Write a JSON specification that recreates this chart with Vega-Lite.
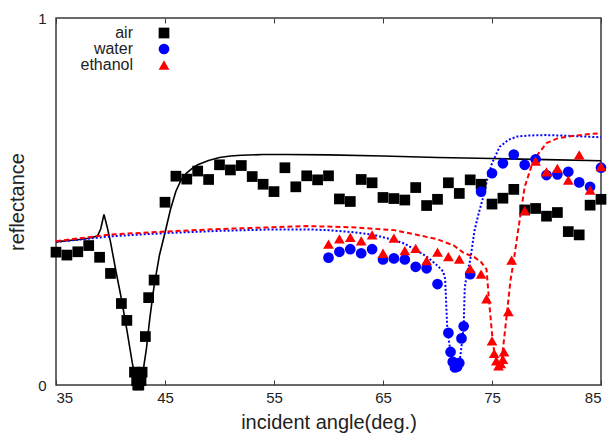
{
  "$schema": "https://vega.github.io/schema/vega-lite/v6.json",
  "width": 545,
  "height": 367,
  "autosize": {"type": "none"},
  "padding": {"left": 56, "top": 18, "right": 10, "bottom": 50},
  "background": "white",
  "config": {
    "font": "Liberation Sans",
    "view": {"stroke": "#3a3a3a", "strokeWidth": 1.5},
    "axis": {
      "domain": false,
      "grid": false,
      "labelFont": "Liberation Sans",
      "labelFontSize": 15,
      "labelColor": "#222222",
      "titleFont": "Liberation Sans",
      "titleFontSize": 20,
      "titleFontWeight": "normal",
      "titleColor": "#222222",
      "tickColor": "#3a3a3a",
      "tickWidth": 1
    }
  },
  "datasets": {
    "pts": [
      {"series": "air", "x": 35, "y": 0.362}, {"series": "air", "x": 36, "y": 0.354}, {"series": "air", "x": 37, "y": 0.363}, {"series": "air", "x": 38, "y": 0.38},
      {"series": "air", "x": 39, "y": 0.348}, {"series": "air", "x": 40, "y": 0.304}, {"series": "air", "x": 41, "y": 0.222}, {"series": "air", "x": 41.5, "y": 0.176},
      {"series": "air", "x": 42.2, "y": 0.035}, {"series": "air", "x": 42.4, "y": 0.012}, {"series": "air", "x": 42.5, "y": 0.0}, {"series": "air", "x": 42.6, "y": 0.0},
      {"series": "air", "x": 42.8, "y": 0.012}, {"series": "air", "x": 42.9, "y": 0.035}, {"series": "air", "x": 43.2, "y": 0.132}, {"series": "air", "x": 43.5, "y": 0.238},
      {"series": "air", "x": 44, "y": 0.286}, {"series": "air", "x": 45, "y": 0.498}, {"series": "air", "x": 46, "y": 0.569}, {"series": "air", "x": 47, "y": 0.561},
      {"series": "air", "x": 48, "y": 0.583}, {"series": "air", "x": 49, "y": 0.56}, {"series": "air", "x": 50, "y": 0.6}, {"series": "air", "x": 51, "y": 0.586},
      {"series": "air", "x": 52, "y": 0.598}, {"series": "air", "x": 53, "y": 0.568}, {"series": "air", "x": 54, "y": 0.547}, {"series": "air", "x": 55, "y": 0.527},
      {"series": "air", "x": 56, "y": 0.592}, {"series": "air", "x": 57, "y": 0.54}, {"series": "air", "x": 58, "y": 0.57}, {"series": "air", "x": 59, "y": 0.559},
      {"series": "air", "x": 60, "y": 0.57}, {"series": "air", "x": 61, "y": 0.507}, {"series": "air", "x": 62, "y": 0.5}, {"series": "air", "x": 63, "y": 0.56},
      {"series": "air", "x": 64, "y": 0.551}, {"series": "air", "x": 65, "y": 0.511}, {"series": "air", "x": 66, "y": 0.508}, {"series": "air", "x": 67, "y": 0.504},
      {"series": "air", "x": 68, "y": 0.538}, {"series": "air", "x": 69, "y": 0.489}, {"series": "air", "x": 70, "y": 0.506}, {"series": "air", "x": 71, "y": 0.551},
      {"series": "air", "x": 72, "y": 0.522}, {"series": "air", "x": 73, "y": 0.559}, {"series": "air", "x": 74, "y": 0.547}, {"series": "air", "x": 75, "y": 0.493},
      {"series": "air", "x": 76, "y": 0.509}, {"series": "air", "x": 77, "y": 0.533}, {"series": "air", "x": 78, "y": 0.477}, {"series": "air", "x": 79, "y": 0.481},
      {"series": "air", "x": 80, "y": 0.46}, {"series": "air", "x": 81, "y": 0.47}, {"series": "air", "x": 82, "y": 0.418}, {"series": "air", "x": 83, "y": 0.409},
      {"series": "air", "x": 84, "y": 0.49}, {"series": "air", "x": 85, "y": 0.506},
      {"series": "water", "x": 60, "y": 0.347}, {"series": "water", "x": 61, "y": 0.363}, {"series": "water", "x": 62, "y": 0.37}, {"series": "water", "x": 63, "y": 0.359},
      {"series": "water", "x": 64, "y": 0.37}, {"series": "water", "x": 65, "y": 0.342}, {"series": "water", "x": 66, "y": 0.345}, {"series": "water", "x": 67, "y": 0.342},
      {"series": "water", "x": 68, "y": 0.322}, {"series": "water", "x": 69, "y": 0.318}, {"series": "water", "x": 70, "y": 0.275}, {"series": "water", "x": 71, "y": 0.142},
      {"series": "water", "x": 71.2, "y": 0.09}, {"series": "water", "x": 71.4, "y": 0.063}, {"series": "water", "x": 71.6, "y": 0.048}, {"series": "water", "x": 71.8, "y": 0.05},
      {"series": "water", "x": 72, "y": 0.06}, {"series": "water", "x": 72.2, "y": 0.127}, {"series": "water", "x": 72.4, "y": 0.16}, {"series": "water", "x": 73, "y": 0.302},
      {"series": "water", "x": 74, "y": 0.527}, {"series": "water", "x": 75, "y": 0.577}, {"series": "water", "x": 76, "y": 0.604}, {"series": "water", "x": 77, "y": 0.628},
      {"series": "water", "x": 78, "y": 0.6}, {"series": "water", "x": 79, "y": 0.615}, {"series": "water", "x": 80, "y": 0.572}, {"series": "water", "x": 81, "y": 0.574},
      {"series": "water", "x": 82, "y": 0.581}, {"series": "water", "x": 83, "y": 0.552}, {"series": "water", "x": 84, "y": 0.54}, {"series": "water", "x": 85, "y": 0.592},
      {"series": "ethanol", "x": 60, "y": 0.384}, {"series": "ethanol", "x": 61, "y": 0.398}, {"series": "ethanol", "x": 62, "y": 0.402}, {"series": "ethanol", "x": 63, "y": 0.393},
      {"series": "ethanol", "x": 64, "y": 0.409}, {"series": "ethanol", "x": 65, "y": 0.359}, {"series": "ethanol", "x": 66, "y": 0.4}, {"series": "ethanol", "x": 67, "y": 0.366},
      {"series": "ethanol", "x": 68, "y": 0.372}, {"series": "ethanol", "x": 69, "y": 0.339}, {"series": "ethanol", "x": 70, "y": 0.362}, {"series": "ethanol", "x": 71, "y": 0.35},
      {"series": "ethanol", "x": 72, "y": 0.343}, {"series": "ethanol", "x": 73, "y": 0.317}, {"series": "ethanol", "x": 74, "y": 0.302}, {"series": "ethanol", "x": 74.5, "y": 0.235},
      {"series": "ethanol", "x": 75, "y": 0.12}, {"series": "ethanol", "x": 75.2, "y": 0.086}, {"series": "ethanol", "x": 75.4, "y": 0.066}, {"series": "ethanol", "x": 75.6, "y": 0.052},
      {"series": "ethanol", "x": 75.8, "y": 0.058}, {"series": "ethanol", "x": 76, "y": 0.07}, {"series": "ethanol", "x": 76.1, "y": 0.09}, {"series": "ethanol", "x": 76.5, "y": 0.2},
      {"series": "ethanol", "x": 76.8, "y": 0.34}, {"series": "ethanol", "x": 78, "y": 0.475}, {"series": "ethanol", "x": 79, "y": 0.61}, {"series": "ethanol", "x": 80, "y": 0.581},
      {"series": "ethanol", "x": 81, "y": 0.59}, {"series": "ethanol", "x": 82, "y": 0.558}, {"series": "ethanol", "x": 83, "y": 0.627}, {"series": "ethanol", "x": 84, "y": 0.531},
      {"series": "ethanol", "x": 85, "y": 0.595}
    ],
    "curves": [
      {"series": "air", "x": 35, "y": 0.39}, {"series": "air", "x": 36, "y": 0.393}, {"series": "air", "x": 37, "y": 0.396}, {"series": "air", "x": 38, "y": 0.4},
      {"series": "air", "x": 38.8, "y": 0.406}, {"series": "air", "x": 39.1, "y": 0.425}, {"series": "air", "x": 39.4, "y": 0.465}, {"series": "air", "x": 39.7, "y": 0.43},
      {"series": "air", "x": 40, "y": 0.39}, {"series": "air", "x": 40.5, "y": 0.31}, {"series": "air", "x": 41, "y": 0.235}, {"series": "air", "x": 41.5, "y": 0.15},
      {"series": "air", "x": 42, "y": 0.06}, {"series": "air", "x": 42.3, "y": 0.015}, {"series": "air", "x": 42.5, "y": 0.0}, {"series": "air", "x": 42.7, "y": 0.005},
      {"series": "air", "x": 43, "y": 0.04}, {"series": "air", "x": 43.3, "y": 0.1}, {"series": "air", "x": 43.6, "y": 0.18}, {"series": "air", "x": 44, "y": 0.27},
      {"series": "air", "x": 44.5, "y": 0.355}, {"series": "air", "x": 45, "y": 0.415}, {"series": "air", "x": 45.5, "y": 0.478}, {"series": "air", "x": 46, "y": 0.528},
      {"series": "air", "x": 46.5, "y": 0.56}, {"series": "air", "x": 47, "y": 0.578}, {"series": "air", "x": 47.5, "y": 0.59}, {"series": "air", "x": 48, "y": 0.6},
      {"series": "air", "x": 49, "y": 0.612}, {"series": "air", "x": 50, "y": 0.62}, {"series": "air", "x": 51, "y": 0.624}, {"series": "air", "x": 52, "y": 0.626},
      {"series": "air", "x": 54, "y": 0.628}, {"series": "air", "x": 56, "y": 0.628}, {"series": "air", "x": 60, "y": 0.627}, {"series": "air", "x": 65, "y": 0.624},
      {"series": "air", "x": 70, "y": 0.62}, {"series": "air", "x": 75, "y": 0.617}, {"series": "air", "x": 80, "y": 0.614}, {"series": "air", "x": 85, "y": 0.611},
      {"series": "water", "x": 35, "y": 0.39}, {"series": "water", "x": 40, "y": 0.405}, {"series": "water", "x": 45, "y": 0.414}, {"series": "water", "x": 50, "y": 0.42},
      {"series": "water", "x": 55, "y": 0.424}, {"series": "water", "x": 58, "y": 0.424}, {"series": "water", "x": 60, "y": 0.422}, {"series": "water", "x": 62, "y": 0.417},
      {"series": "water", "x": 64, "y": 0.41}, {"series": "water", "x": 66, "y": 0.395}, {"series": "water", "x": 67, "y": 0.385}, {"series": "water", "x": 68, "y": 0.368},
      {"series": "water", "x": 69, "y": 0.35}, {"series": "water", "x": 69.5, "y": 0.338}, {"series": "water", "x": 70, "y": 0.325}, {"series": "water", "x": 70.5, "y": 0.31},
      {"series": "water", "x": 70.7, "y": 0.29}, {"series": "water", "x": 70.9, "y": 0.15}, {"series": "water", "x": 71.2, "y": 0.09}, {"series": "water", "x": 71.5, "y": 0.05},
      {"series": "water", "x": 71.7, "y": 0.04}, {"series": "water", "x": 72, "y": 0.055}, {"series": "water", "x": 72.3, "y": 0.13}, {"series": "water", "x": 72.4, "y": 0.16},
      {"series": "water", "x": 72.5, "y": 0.265}, {"series": "water", "x": 72.7, "y": 0.305}, {"series": "water", "x": 73, "y": 0.34}, {"series": "water", "x": 73.4, "y": 0.422},
      {"series": "water", "x": 73.8, "y": 0.47}, {"series": "water", "x": 74.2, "y": 0.513}, {"series": "water", "x": 74.6, "y": 0.565}, {"series": "water", "x": 75, "y": 0.604},
      {"series": "water", "x": 75.7, "y": 0.649}, {"series": "water", "x": 76.5, "y": 0.668}, {"series": "water", "x": 77.3, "y": 0.677}, {"series": "water", "x": 78.5, "y": 0.68},
      {"series": "water", "x": 80, "y": 0.681}, {"series": "water", "x": 82, "y": 0.679}, {"series": "water", "x": 85, "y": 0.675},
      {"series": "ethanol", "x": 35, "y": 0.392}, {"series": "ethanol", "x": 40, "y": 0.41}, {"series": "ethanol", "x": 45, "y": 0.418}, {"series": "ethanol", "x": 50, "y": 0.425},
      {"series": "ethanol", "x": 55, "y": 0.43}, {"series": "ethanol", "x": 58, "y": 0.433}, {"series": "ethanol", "x": 62, "y": 0.43}, {"series": "ethanol", "x": 66, "y": 0.422},
      {"series": "ethanol", "x": 68, "y": 0.41}, {"series": "ethanol", "x": 70, "y": 0.397}, {"series": "ethanol", "x": 71.5, "y": 0.38}, {"series": "ethanol", "x": 72.4, "y": 0.36},
      {"series": "ethanol", "x": 73.3, "y": 0.35}, {"series": "ethanol", "x": 74, "y": 0.335}, {"series": "ethanol", "x": 74.5, "y": 0.315}, {"series": "ethanol", "x": 74.7, "y": 0.24},
      {"series": "ethanol", "x": 75, "y": 0.14}, {"series": "ethanol", "x": 75.2, "y": 0.09}, {"series": "ethanol", "x": 75.4, "y": 0.068}, {"series": "ethanol", "x": 75.6, "y": 0.055},
      {"series": "ethanol", "x": 75.9, "y": 0.07}, {"series": "ethanol", "x": 76.3, "y": 0.177}, {"series": "ethanol", "x": 76.7, "y": 0.286}, {"series": "ethanol", "x": 77, "y": 0.34},
      {"series": "ethanol", "x": 77.4, "y": 0.422}, {"series": "ethanol", "x": 78, "y": 0.54}, {"series": "ethanol", "x": 78.8, "y": 0.613}, {"series": "ethanol", "x": 80, "y": 0.659},
      {"series": "ethanol", "x": 81, "y": 0.672}, {"series": "ethanol", "x": 82.2, "y": 0.678}, {"series": "ethanol", "x": 84, "y": 0.684}, {"series": "ethanol", "x": 85, "y": 0.686}
    ]
  },
  "resolve": {"axis": {"x": "independent"}},
  "layer": [
    {
      "data": {"name": "curves"},
      "transform": [{"filter": "datum.series === 'air'"}],
      "mark": {"type": "line", "color": "#000000", "strokeWidth": 1.6, "clip": true},
      "encoding": {
        "x": {"field": "x", "type": "quantitative", "scale": {"domain": [35, 85], "nice": false, "zero": false},
          "axis": {"orient": "bottom", "values": [35, 45, 55, 65, 75, 85], "tickSize": -5, "labelPadding": 10, "title": "incident angle(deg.)", "titlePadding": 7}},
        "y": {"field": "y", "type": "quantitative", "scale": {"domain": [0, 1], "nice": false, "zero": false},
          "axis": {"values": [0, 1], "format": "d", "ticks": false, "labelPadding": 10, "title": "reflectance", "titlePadding": 10}}
      }
    },
    {
      "data": {"name": "curves"},
      "transform": [{"filter": "datum.series === 'water'"}],
      "mark": {"type": "line", "color": "#0000ff", "strokeWidth": 2, "strokeDash": [2, 2], "clip": true},
      "encoding": {
        "x": {"field": "x", "type": "quantitative",
          "axis": {"orient": "top", "values": [35, 45, 55, 65, 75, 85], "tickSize": -5, "labels": false, "title": null}},
        "y": {"field": "y", "type": "quantitative", "title": "reflectance"}
      }
    },
    {
      "data": {"name": "curves"},
      "transform": [{"filter": "datum.series === 'ethanol'"}],
      "mark": {"type": "line", "color": "#ff0000", "strokeWidth": 2, "strokeDash": [5, 3], "clip": true},
      "encoding": {
        "x": {"field": "x", "type": "quantitative", "axis": null},
        "y": {"field": "y", "type": "quantitative", "title": "reflectance"}
      }
    },
    {
      "data": {"name": "pts"},
      "mark": {"type": "point", "filled": true, "size": 115, "opacity": 1},
      "encoding": {
        "x": {"field": "x", "type": "quantitative", "axis": null},
        "y": {"field": "y", "type": "quantitative", "title": "reflectance"},
        "color": {"field": "series", "type": "nominal",
          "scale": {"domain": ["air", "water", "ethanol"], "range": ["#000000", "#0000ff", "#ff0000"]},
          "legend": {"title": null, "orient": "none", "legendX": 100, "legendY": 7, "labelOffset": -39, "labelAlign": "right", "labelFontSize": 16, "labelColor": "#222222", "symbolSize": 115, "rowPadding": 0, "padding": 0, "symbolStrokeWidth": 0}},
        "shape": {"field": "series", "type": "nominal",
          "scale": {"domain": ["air", "water", "ethanol"], "range": ["square", "circle", "triangle-up"]},
          "legend": {"title": null, "orient": "none", "legendX": 100, "legendY": 7, "labelOffset": -39, "labelAlign": "right", "labelFontSize": 16, "labelColor": "#222222", "symbolSize": 115, "rowPadding": 0, "padding": 0, "symbolStrokeWidth": 0}}
      }
    }
  ]
}
